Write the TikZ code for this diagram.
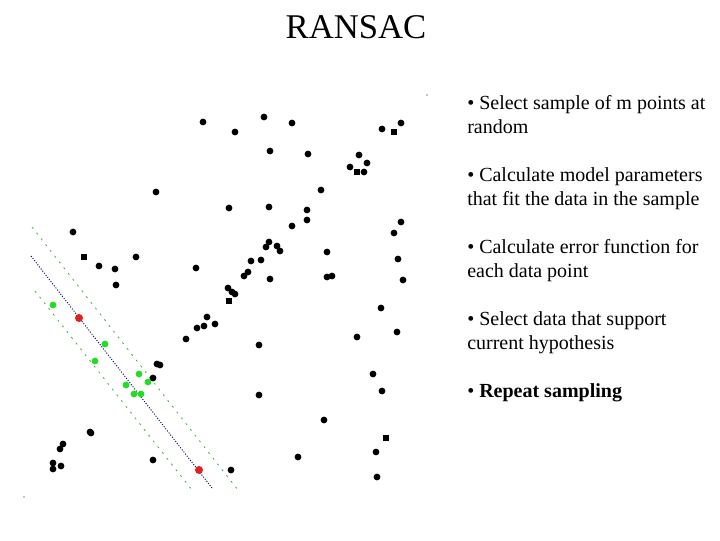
\documentclass[tikz,border=0pt]{standalone}
\usepackage{fontspec}
\setmainfont{Liberation Serif}
\usepackage{tikz}
\usetikzlibrary{positioning, calc}
\definecolor{inliergreen}{HTML}{22DD22}
\definecolor{samplered}{HTML}{DD2222}
\definecolor{bandgreen}{HTML}{44AA44}
\definecolor{fitnavy}{HTML}{10105A}
\tikzstyle{pt} = [fill=black]
\tikzstyle{bullet} = [anchor=base west, inner sep=0pt, align=left, font=\fontsize{15pt}{18pt}\selectfont]
\tikzstyle{band} = [bandgreen, line width=0.6pt, dash pattern=on 1.5pt off 4pt]
\tikzstyle{fit} = [fitnavy, line width=0.7pt, dash pattern=on 0.8pt off 1.2pt]

\begin{document}
\begin{tikzpicture}[x=0.75pt, y=-0.75pt]
    \useasboundingbox (0,0) rectangle (720,540);
    \node[font=\fontsize{26pt}{30pt}\selectfont, anchor=base, inner sep=0pt] (title) at (356,38) {RANSAC};

    % consensus band and fitted line
    \coordinate (bandTopA) at (32,227);
    \coordinate (bandTopB) at (238,490);
    \coordinate (bandLowA) at (35,291);
    \coordinate (bandLowB) at (192,490);
    \coordinate (fitA) at (31,256);
    \coordinate (fitB) at (212,488);
    \draw[band] (bandTopA) -- (bandTopB);
    \draw[band] (bandLowA) -- (bandLowB);
    \draw[fit] (fitA) -- (fitB);

    % outliers
    \foreach \x/\y in {203/122,235/132,156/192,229/208,73/232,136/257,
        264/117,292/123,382/129,401/123,270/151,308/154,359/155,367/163,350/167,364/172,
        321/190,269/207,307/210,307/220,292/226,401/222,394/233,269/242,266/247,277/246,
        280/251,327/252,398/259,99/266,115/269,116/285,196/268,228/288,232/292,235/294,
        207/317,204/326,197/328,215/324,186/339,157/364,160/365,153/378,251/261,261/260,
        248/272,244/276,270/279,327/277,332/276,403/280,381/308,357/337,397/332,259/345,
        373/374,90/432,91/433,63/444,60/449,53/463,53/469,61/466,153/460,231/470,
        259/395,382/391,324/420,376/452,298/457,377/477}
        \fill[pt] (\x,\y) circle (3.4);
    \foreach \x/\y in {84/257,394/132,357/172,229/301,386/438}
        \fill[pt] (\x-3.2,\y-3.2) rectangle (\x+3.2,\y+3.2);
    \fill (427,95) circle (0.6);
    \fill (24,497) circle (0.6);

    % inliers and the sample
    \foreach \x/\y in {53/305,105/344,95/361,139/374,148/382,126/385,134/394,141/394}
        \fill[inliergreen] (\x,\y) circle (3.4);
    \foreach \x/\y in {79/318,199/470}
        \fill[samplered] (\x,\y) circle (4);

    % steps (two-line nodes sit on their last baseline)
    \node[bullet] (stepA) at (467,133) {\textbullet\ Select sample of m points at\\random};
    \node[bullet] (stepB) at (467,205) {\textbullet\ Calculate model parameters\\that fit the data in the sample};
    \node[bullet] (stepC) at (467,277) {\textbullet\ Calculate error function for\\each data point};
    \node[bullet] (stepD) at (467,349) {\textbullet\ Select data that support\\current hypothesis};
    \node[bullet] (stepE) at (467,397) {\textbullet\ \textbf{Repeat sampling}};
\end{tikzpicture}
\end{document}
